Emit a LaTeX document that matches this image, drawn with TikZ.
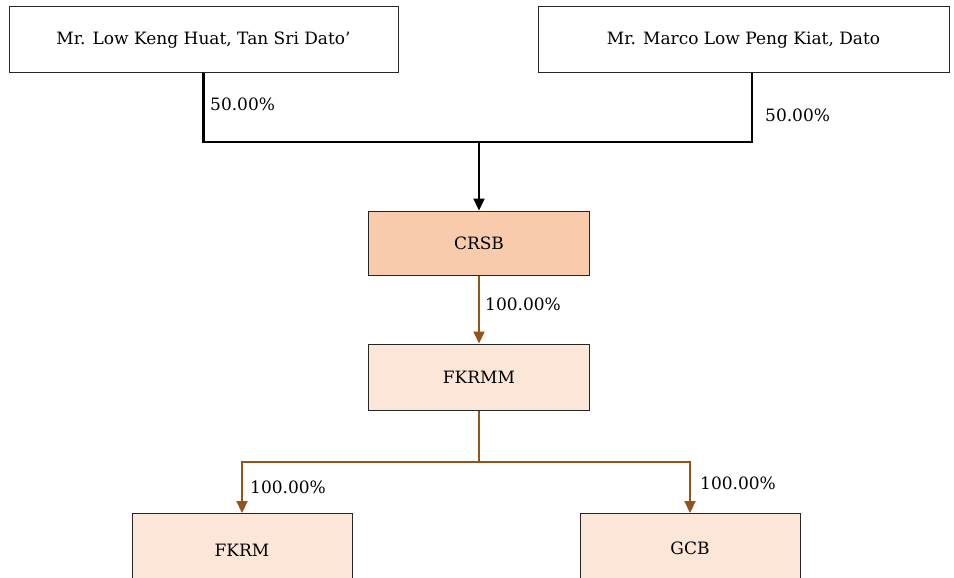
\documentclass[tikz,border=0pt]{standalone}
\usepackage{fontspec}
\setmainfont{DejaVu Serif}
\usetikzlibrary{arrows.meta}
\definecolor{peach}{HTML}{F8CBAD}
\definecolor{lightpeach}{HTML}{FCE6D7}
\definecolor{brownline}{HTML}{93531A}
\tikzset{
  txt/.style={font=\fontsize{17}{19}\selectfont},
  topbox/.style={txt, draw=black!85, line width=1pt, fill=white, minimum height=66pt, inner sep=0pt},
  entbox/.style={txt, draw=black!85, line width=1pt, minimum width=221pt, inner sep=0pt},
  pct/.style={txt, anchor=west, inner sep=0pt},
  blackconn/.style={draw=black, line width=2.4pt},
  brownconn/.style={draw=brownline, line width=2.2pt},
  tip/.style={-{Triangle[width=11pt,length=12pt]}}
}
\begin{document}
\begin{tikzpicture}[x=1pt,y=-1pt]
\useasboundingbox[fill=white] (0,0) rectangle (954,578);
% owners
\node[topbox, minimum width=389pt] (b1) at (203.5,40) {Mr. Low Keng Huat, Tan Sri Dato’};
\node[topbox, minimum width=411pt] (b2) at (743.5,40) {Mr. Marco Low Peng Kiat, Dato};
% entities
\node[entbox, fill=peach, minimum height=64pt] (crsb) at (479,243) {CRSB};
\node[entbox, fill=lightpeach, minimum height=66pt] (fkrmm) at (479,377) {FKRMM};
\node[entbox, fill=lightpeach, minimum width=220pt, minimum height=80pt, anchor=north] (fkrm) at (242,513) {};
\node[entbox, fill=lightpeach, minimum width=220pt, minimum height=80pt, anchor=north] (gcb) at (690,513) {};
\node[txt] (fkrmt) at (242,550) {FKRM};
\node[txt] (gcbt) at (690,548) {GCB};
% junctions
\coordinate (j1) at (479,142);
\coordinate (b2c) at (752,73);
\coordinate (j2) at (479,462);
% owner connectors
\draw[blackconn] (b1.south) |- (j1) -| (b2c);
\draw[blackconn, tip] (j1) -- (crsb.north);
% subsidiaries
\draw[brownconn, tip] (crsb.south) -- (fkrmm.north);
\draw[brownconn] (fkrmm.south) -- (j2);
\draw[brownconn, tip] (j2) -| (fkrm.north);
\draw[brownconn, tip] (j2) -| (gcb.north);
% labels
\node[pct] (l1) at (210,104) {50.00\%};
\node[pct] (l2) at (765,115) {50.00\%};
\node[pct] (l3) at (485,304) {100.00\%};
\node[pct] (l4) at (250,487) {100.00\%};
\node[pct] (l5) at (700,483) {100.00\%};
\end{tikzpicture}
\end{document}
